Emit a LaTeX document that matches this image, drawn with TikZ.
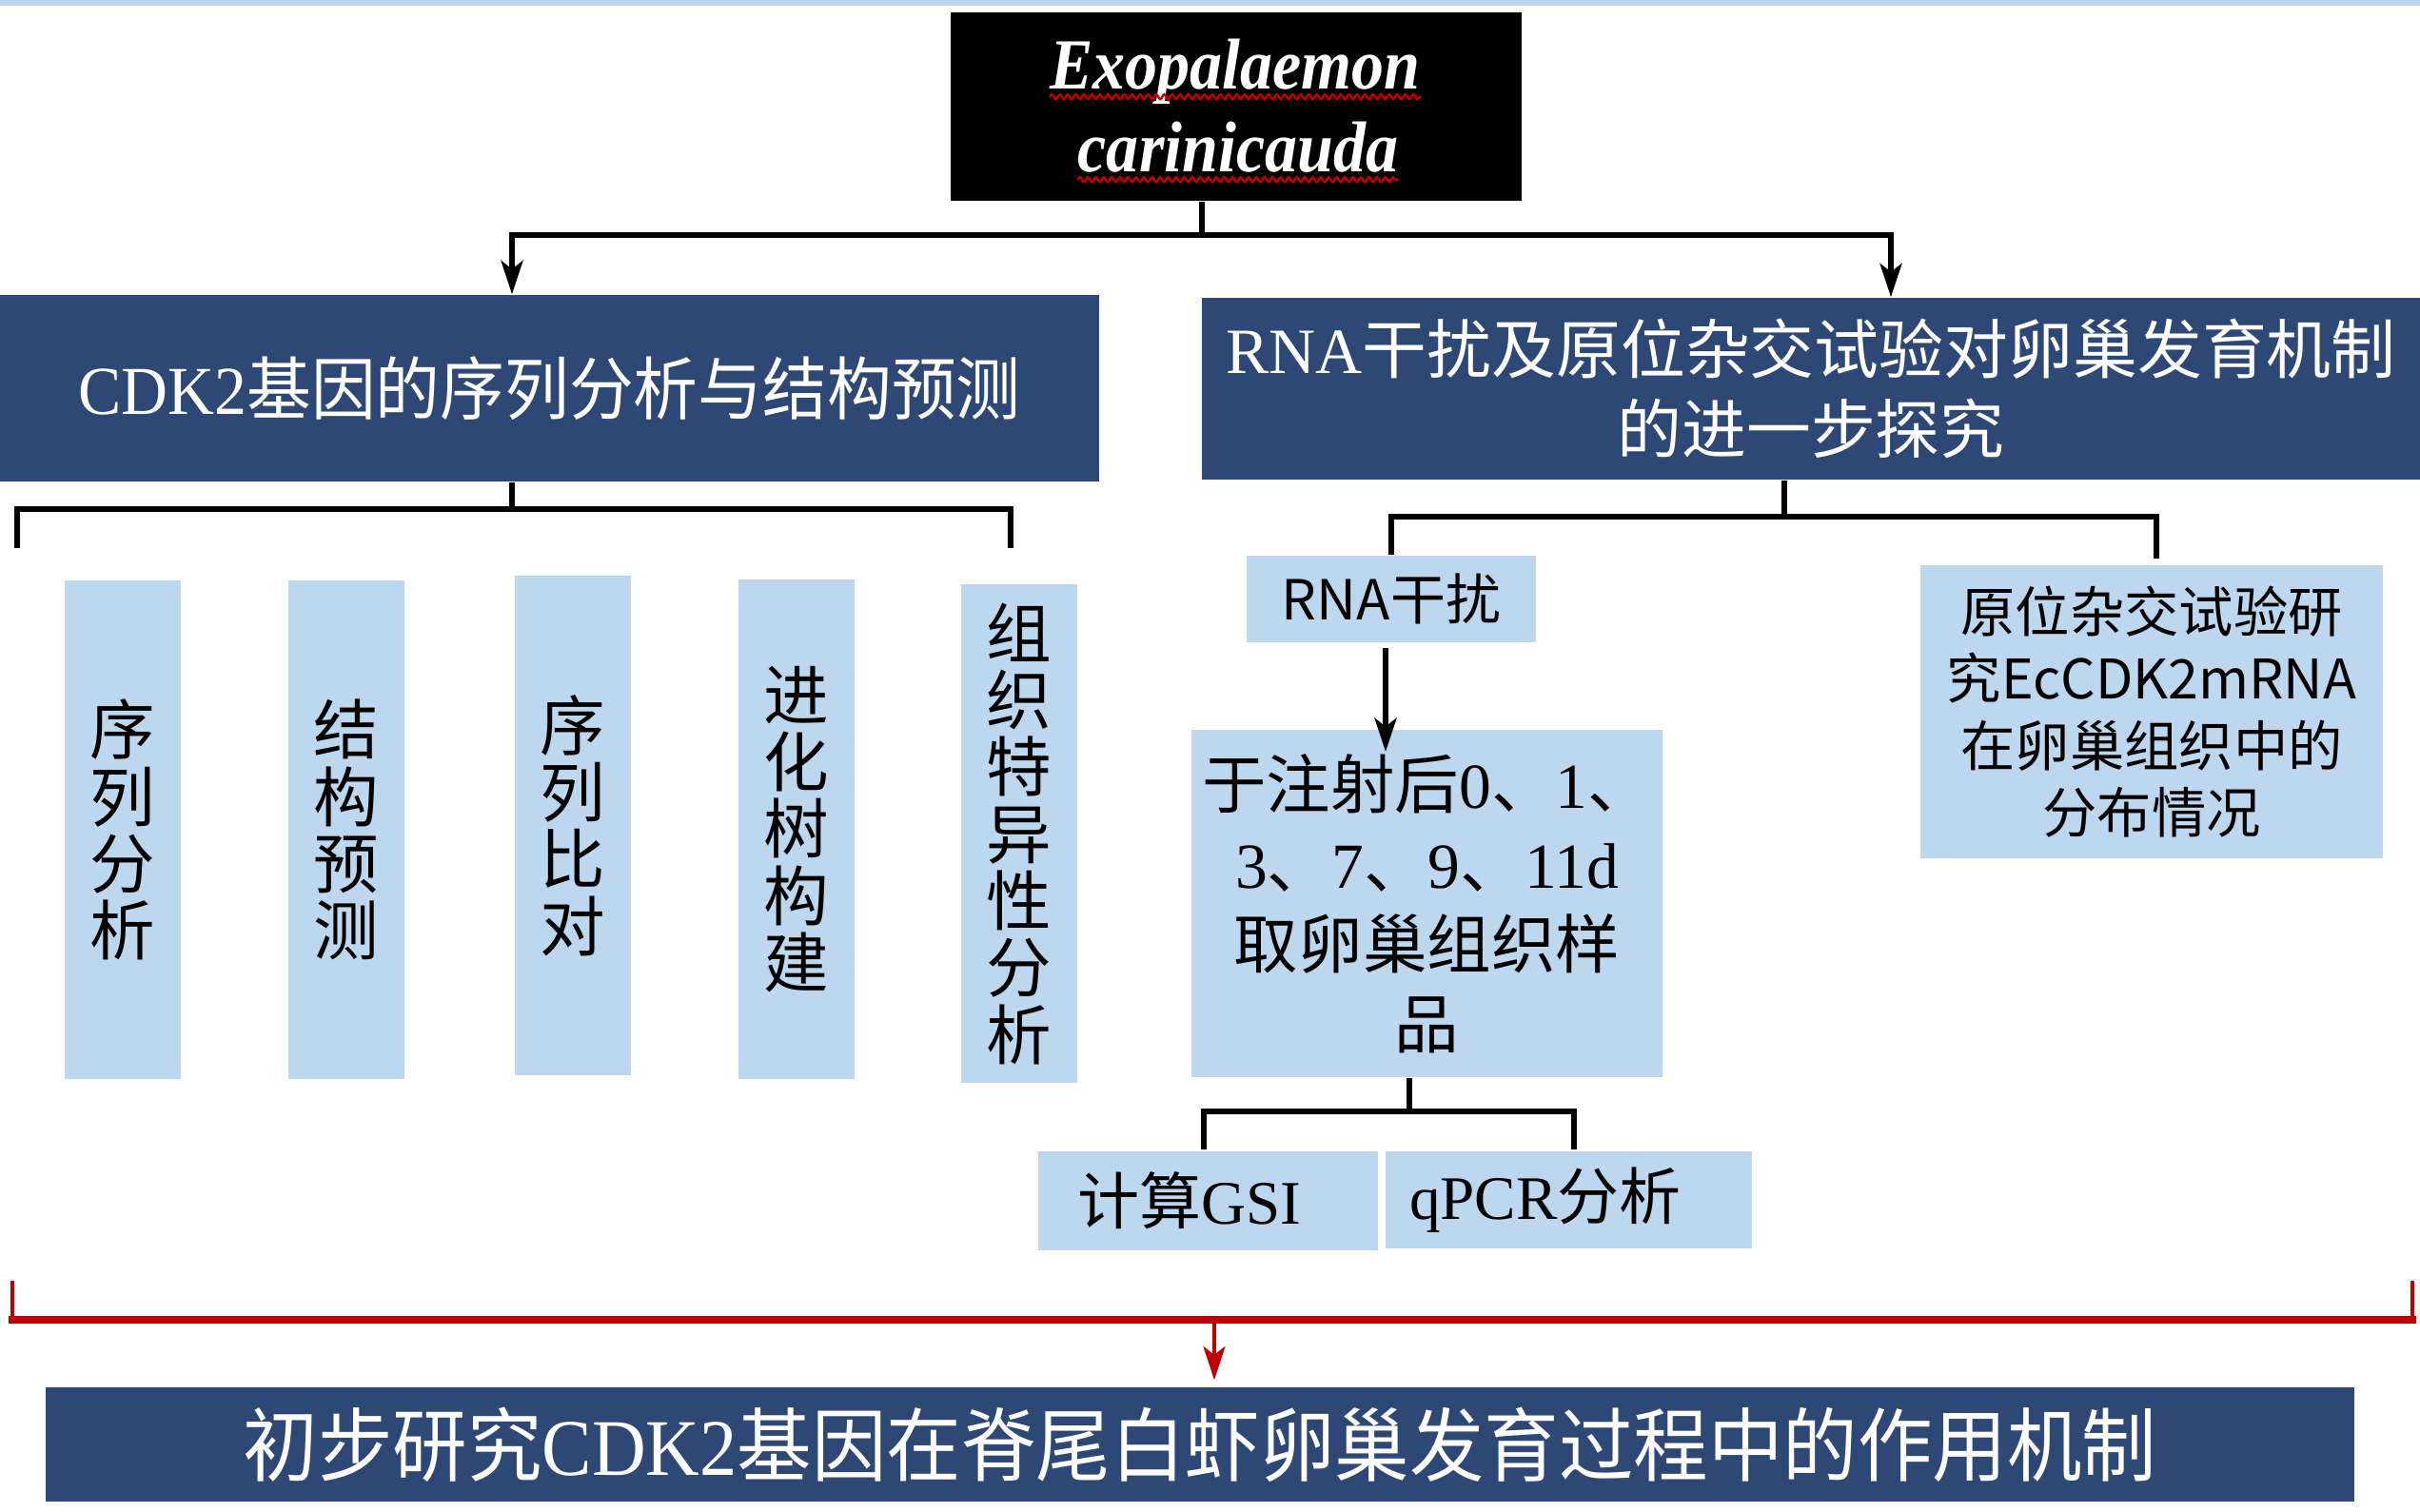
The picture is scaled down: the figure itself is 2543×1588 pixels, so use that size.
\documentclass[tikz,border=0pt]{standalone}
\usepackage{fontspec}
\setmainfont{Liberation Serif}
\newfontfamily\cjk{Noto Sans CJK SC}
\newfontfamily\cjkn[FakeStretch=0.94]{Noto Sans CJK SC}
\newfontfamily\sern[FakeStretch=0.94]{Liberation Serif}
\newfontfamily\cjkb[FakeStretch=0.93]{Noto Sans CJK SC}
\newfontfamily\serb[FakeStretch=0.93]{Liberation Serif}
\newfontfamily\exof[FakeStretch=0.9]{Liberation Serif}
\usetikzlibrary{arrows.meta,decorations.pathmorphing}
\definecolor{dkblue}{RGB}{46,72,117}
\definecolor{ltblue}{RGB}{189,215,238}
\definecolor{dred}{RGB}{192,0,0}
\tikzset{
  dk/.style={fill=dkblue, text=white, inner sep=0pt, align=center},
  lt/.style={fill=ltblue, text=black, inner sep=0pt, align=center},
  ln/.style={line width=1.7pt, black},
  tip/.style={-{Stealth[length=10pt,width=6.5pt,inset=2.5pt]}},
  rdthin/.style={line width=1.3pt, dred},
  rdthick/.style={line width=2.4pt, dred},
  exo/.style={text=white, inner sep=0pt, anchor=base, font=\exof\bfseries\itshape\fontsize{21.5}{24}\selectfont},
  wavy/.style={dred, line width=0.7pt, decorate, decoration={snake, amplitude=0.7pt, segment length=2.4pt}},
}
\begin{document}
\begin{tikzpicture}[x=0.01cm,y=-0.01cm]
\useasboundingbox (0,0) rectangle (2543,1588);
\fill[ltblue] (0,0) rectangle (2543,6);

% title box
\node[fill=black, minimum width=6cm, minimum height=1.98cm, inner sep=0pt] (top) at (1299,112) {};
\node[exo] (ex1) at (1298,94) {Exopalaemon};
\node[exo] (ex2) at (1301,181) {carinicauda};
\draw[wavy] ([yshift=-2.2pt]ex1.base west) -- ([yshift=-2.2pt]ex1.base east);
\draw[wavy] ([yshift=-2.2pt]ex2.base west) -- ([yshift=-2.2pt]ex2.base east);

% headers
\node[dk, minimum width=11.55cm, minimum height=1.96cm, font=\fontsize{20.5}{24}\selectfont] (h1) at (577.5,408)
  {{\sern CDK2}{\cjkn 基因的序列分析与结构预测}};
\node[dk, minimum width=12.8cm, minimum height=1.91cm, font=\fontsize{19.3}{23.8}\selectfont] (h2) at (1903,408.5)
  {RNA{\cjk 干扰及原位杂交试验对卵巢发育机制}\\{\cjk 的进一步探究}};

% vertical boxes
\begin{scope}[every node/.append style={lt, minimum width=1.22cm, minimum height=5.24cm, font=\cjk\fontsize{19.5}{20}\selectfont}]
\node (v1) at (129,872) {序\\列\\分\\析};
\node (v2) at (364,872) {结\\构\\预\\测};
\node (v3) at (602,867.5) {序\\列\\比\\对};
\node (v4) at (837,871.5) {进\\化\\树\\构\\建};
\node (v5) at (1071,876) {组\\织\\特\\异\\性\\分\\析};
\end{scope}

% right branch boxes
\node[lt, minimum width=3.04cm, minimum height=0.91cm, font=\cjk\fontsize{16.5}{20}\selectfont] (r1) at (1462,629.5) {RNA干扰};
\node[lt, minimum width=4.86cm, minimum height=3.08cm, font=\cjk\fontsize{16.3}{20}\selectfont] (r2) at (2261,748)
  {原位杂交试验研\\究EcCDK2mRNA\\在卵巢组织中的\\分布情况};
\node[lt, minimum width=4.95cm, minimum height=3.65cm, font=\fontsize{19.2}{23.9}\selectfont] (r3) at (1499.5,949.5)
  {{\cjk 于注射后}0{\cjk 、}1{\cjk 、}\\3{\cjk 、}7{\cjk 、}9{\cjk 、}11d\\{\cjk 取卵巢组织样}\\{\cjk 品}};
\node[lt, minimum width=3.57cm, minimum height=1.04cm, font=\fontsize{18.5}{22}\selectfont] (g1) at (1269.5,1262)
  {{\cjk 计算}GSI\hspace*{11pt}};
\node[lt, minimum width=3.85cm, minimum height=1.02cm, font=\fontsize{18.5}{22}\selectfont] (g2) at (1648.5,1261)
  {qPCR{\cjk 分析}\hspace*{14pt}};

% bottom box
\node[dk, minimum width=24.24cm, minimum height=1.2cm, font=\fontsize{24}{28}\selectfont] (bot) at (1261,1518)
  {{\cjkb 初步研究}{\serb CDK2}{\cjkb 基因在脊尾白虾卵巢发育过程中的作用机制}};

% connectors top
\coordinate (ja) at (1263,247);
\coordinate (jl) at (538,247);
\coordinate (jr) at (1987,247);
\draw[ln] (top.south -| ja) -- (ja);
\draw[ln, {Stealth[length=10pt,width=6.5pt,inset=2.5pt]}-{Stealth[length=10pt,width=6.5pt,inset=2.5pt]}]
  (h1.north -| jl) -- (jl) -- (jr) -- (h2.north -| jr);

% left bracket
\coordinate (lb) at (538,535);
\coordinate (lb1) at (18,576);
\coordinate (lb2) at (1062,576);
\draw[ln] (h1.south -| lb) -- (lb);
\draw[ln] (lb1) |- (lb) -| (lb2);

% right bracket
\coordinate (rb) at (1875,543);
\coordinate (rr) at (2266,587);
\draw[ln] (h2.south -| rb) -- (rb);
\draw[ln] (r1.north) |- (rb) -| (rr);

% RNA arrow
\coordinate (rs) at (1456,681);
\coordinate (rt) at (1456,790);
\draw[ln, tip] (rs) -- (rt);

% lower bracket
\coordinate (gb) at (1481,1168);
\coordinate (g1a) at (1265,1208);
\coordinate (g2a) at (1654,1208);
\draw[ln] (r3.south -| gb) -- (gb);
\draw[ln] (g1a) |- (gb) -| (g2a);

% red connector
\coordinate (rl) at (13,1346);
\coordinate (rr2) at (2535,1346);
\coordinate (rm) at (1276,1387);
\draw[rdthin] (rl) -- (rl |- rm);
\draw[rdthin] (rr2) -- (rr2 |- rm);
\draw[rdthick, line cap=rect] (rl |- rm) -- (rr2 |- rm);
\draw[rdthin, -{Stealth[length=10pt,width=6.5pt,inset=2.5pt]}, shorten >=2pt] (rm) -- (bot.north -| rm);
\end{tikzpicture}
\end{document}
